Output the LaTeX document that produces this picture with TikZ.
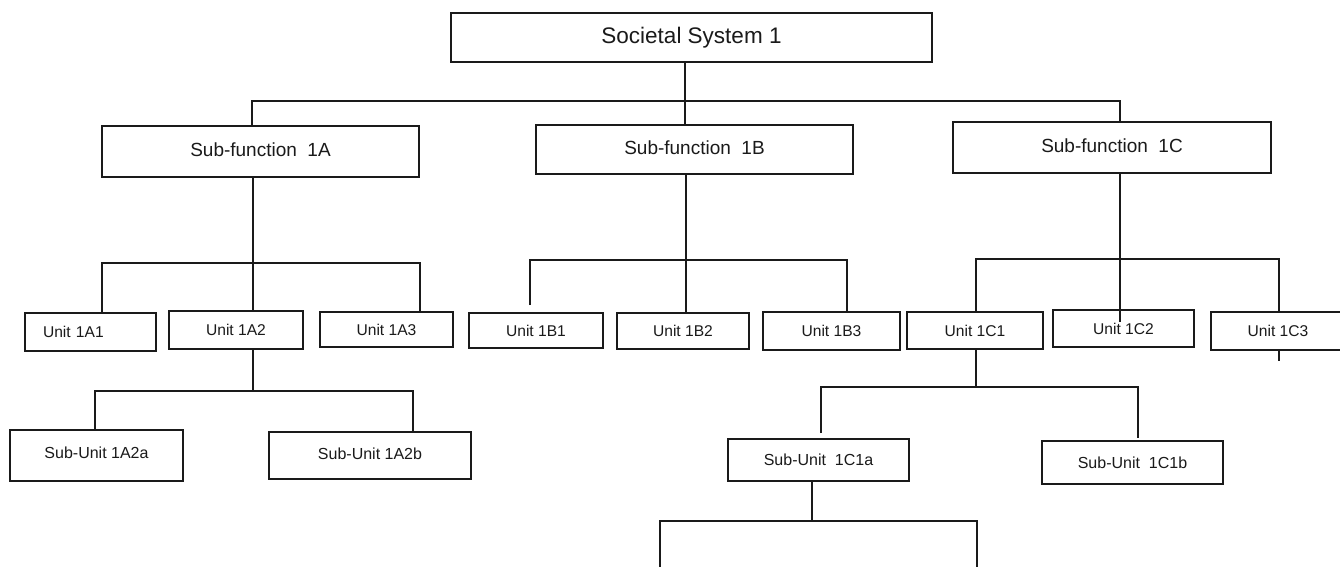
\documentclass[tikz,border=0pt]{standalone}
\usepackage{fontspec}
\setmainfont{Liberation Sans}
\usepackage{tikz}
\usetikzlibrary{positioning,calc}
\definecolor{orgink}{HTML}{1A1A1A}
\tikzset{
  box/.style={draw=orgink,line width=2pt,fill=white,align=center,inner sep=2pt,text=orgink},
  sized/.style 2 args={minimum width=#1pt,minimum height=#2pt},
  topbox/.style={box,font=\fontsize{22.5}{26}\selectfont},
  sfbox/.style={box,font=\fontsize{19}{22}\selectfont},
  unitbox/.style={box,font=\fontsize{15.6}{18}\selectfont},
  subbox/.style={box,font=\fontsize{16}{19}\selectfont},
  link/.style={draw=orgink,line width=1.8pt},
}
\begin{document}
\begin{tikzpicture}[x=1pt,y=-1pt]
  \useasboundingbox (0,0) rectangle (1340,567);
  \clip (0,0) rectangle (1340,567);
  % top and sub-functions
  \node[topbox,sized={481}{49}] (top) at (691.5,37.5) {Societal System 1};
  \node[sfbox,sized={317}{51}] (sfA) at (260.5,151.5) {\raisebox{4pt}{Sub-function\ \ 1A}};
  \node[sfbox,sized={317}{49}] (sfB) at (694.5,149.5) {\raisebox{3pt}{Sub-function\ \ 1B}};
  \node[sfbox,sized={318}{51}] (sfC) at (1112,147.5) {\raisebox{4pt}{Sub-function\ \ 1C}};
  % units
  \node[unitbox,sized={131}{38},text width=95pt,align=left,inner xsep=18pt] (uA1) at (90.5,332) {Unit 1A1};
  \node[unitbox,sized={134}{38}] (uA2) at (236,330) {Unit 1A2};
  \node[unitbox,sized={133}{35}] (uA3) at (386.5,329.5) {Unit 1A3};
  \node[unitbox,sized={134}{35}] (uB1) at (536,330.5) {Unit 1B1};
  \node[unitbox,sized={132}{36}] (uB2) at (683,331) {Unit 1B2};
  \node[unitbox,sized={137}{38}] (uB3) at (831.5,331) {Unit 1B3};
  \node[unitbox,sized={136}{37}] (uC1) at (975,330.5) {Unit 1C1};
  \node[unitbox,sized={141}{37}] (uC2) at (1123.5,328.5) {Unit 1C2};
  \node[unitbox,sized={134}{38}] (uC3) at (1278,331) {Unit 1C3};
  % sub-units
  \node[subbox,sized={173}{51}] (suA) at (96.5,455.5) {\raisebox{6pt}{Sub-Unit 1A2a}};
  \node[subbox,sized={202}{47}] (suB) at (370,455.5) {\raisebox{3pt}{Sub-Unit 1A2b}};
  \node[subbox,sized={181}{42}] (suC) at (818.5,460) {Sub-Unit\ \ 1C1a};
  \node[subbox,sized={181}{43}] (suD) at (1132.5,462.5) {Sub-Unit\ \ 1C1b};
  % junction points
  \coordinate (tk) at (685,101);
  \coordinate (tl) at (252,101);
  \coordinate (tr) at (1120,101);
  \coordinate (al) at (102,263);
  \coordinate (am) at (253,263);
  \coordinate (ar) at (420,263);
  \coordinate (bl) at (530,260);
  \coordinate (bm) at (686,260);
  \coordinate (br) at (847,260);
  \coordinate (bgap) at (530,305);
  \coordinate (cl) at (976,259);
  \coordinate (cm) at (1120,259);
  \coordinate (cr) at (1279,259);
  \coordinate (cend) at (1120,322);
  \coordinate (ctick) at (1279,361);
  \coordinate (sl) at (95,391);
  \coordinate (sm) at (253,391);
  \coordinate (sr) at (413,391);
  \coordinate (ql) at (821,387);
  \coordinate (qm) at (976,387);
  \coordinate (qr) at (1138,387);
  \coordinate (qlend) at (821,433);
  \coordinate (qrend) at (1138,438);
  \coordinate (pl) at (660,521);
  \coordinate (pm) at (812,521);
  \coordinate (pr) at (977,521);
  \coordinate (plend) at (660,572);
  \coordinate (prend) at (977,572);
  % connectors
  \draw[link] (top.south -| tk) -- (sfB.north -| tk);
  \draw[link] (sfA.north -| tl) -- (tl) -- (tr) -- (sfC.north -| tr);
  \draw[link] (sfA.south -| am) -- (uA2.north -| am);
  \draw[link] (uA1.north -| al) -- (al) -- (ar) -- (uA3.north -| ar);
  \draw[link] (sfB.south -| bm) -- (uB2.north -| bm);
  \draw[link] (bgap) -- (bl) -- (br) -- (uB3.north -| br);
  \draw[link] (sfC.south -| cm) -- (cend);
  \draw[link] (uC1.north -| cl) -- (cl) -- (cr) -- (uC3.north -| cr);
  \draw[link] (uC3.south -| ctick) -- (ctick);
  \draw[link] (uA2.south -| sm) -- (sm);
  \draw[link] (suA.north -| sl) -- (sl) -- (sr) -- (suB.north -| sr);
  \draw[link] (uC1.south -| qm) -- (qm);
  \draw[link] (qlend) -- (ql) -- (qr) -- (qrend);
  \draw[link] (suC.south -| pm) -- (pm);
  \draw[link] (plend) -- (pl) -- (pr) -- (prend);
\end{tikzpicture}
\end{document}
